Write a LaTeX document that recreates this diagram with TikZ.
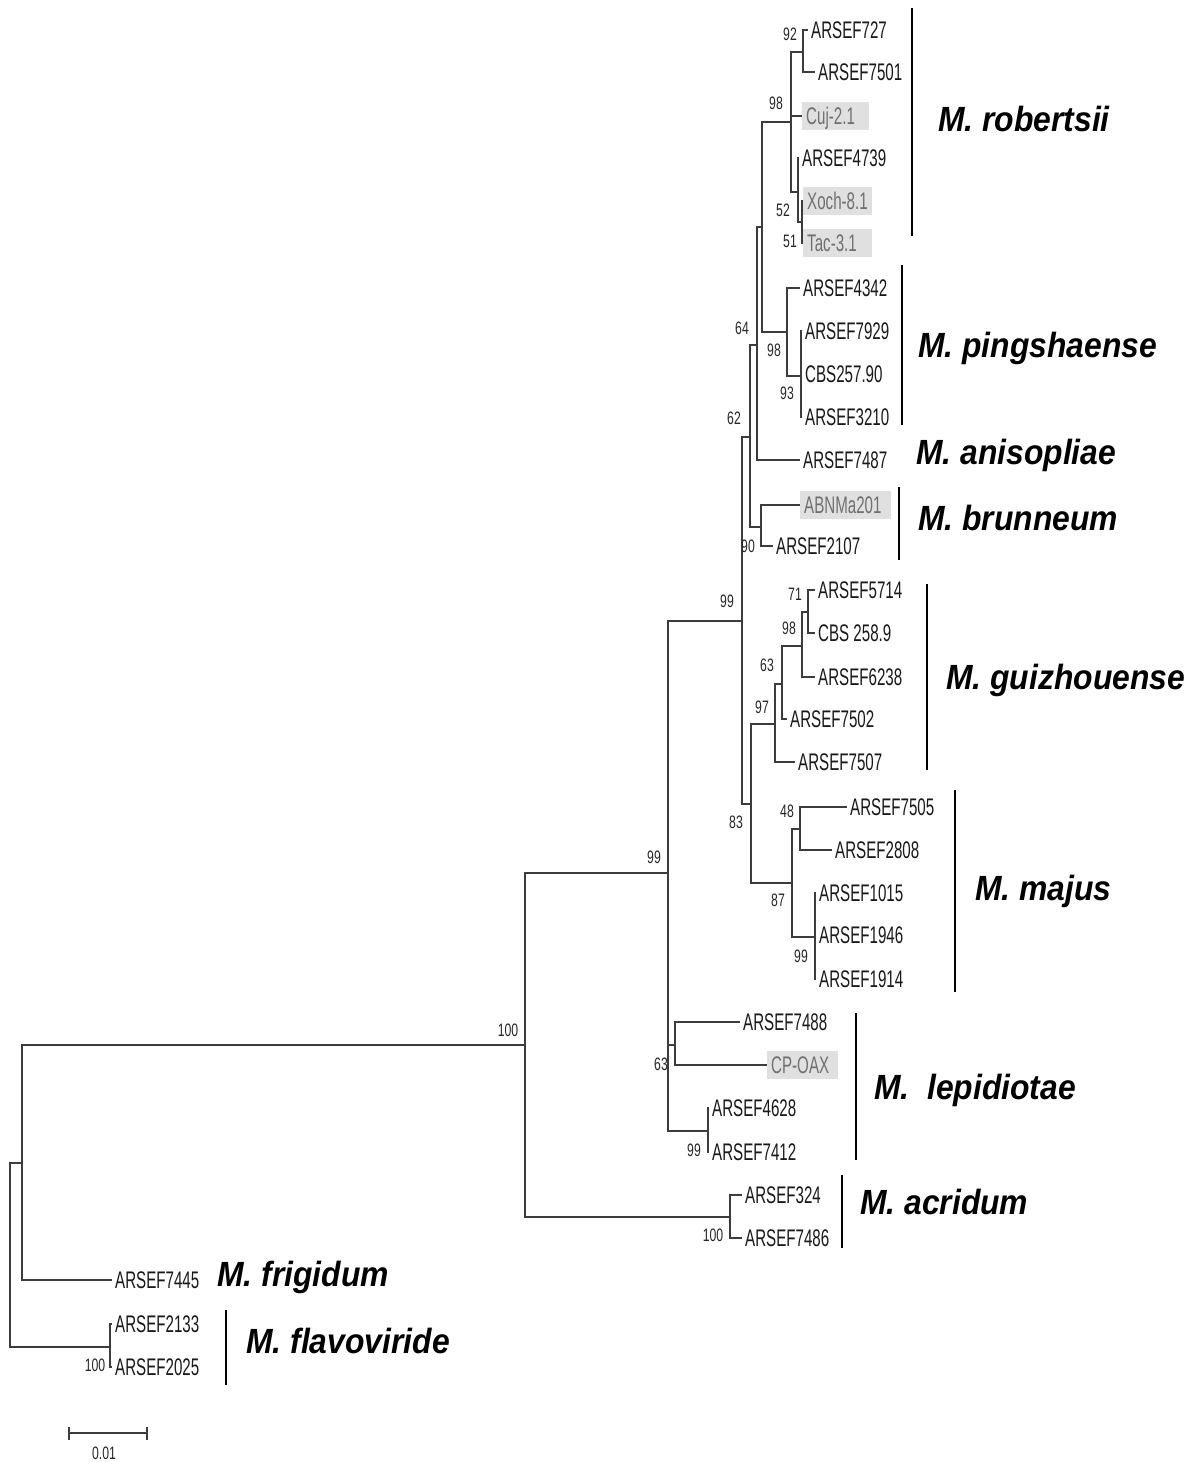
\documentclass[tikz,border=0pt]{standalone}
\usepackage{fontspec}
\setmainfont{Liberation Sans}
\newfontfamily\leaffont[FakeStretch=0.63]{Liberation Sans}
\newfontfamily\bootfont[FakeStretch=0.68]{Liberation Sans}
\newfontfamily\cladefont[FakeStretch=0.91]{Liberation Sans}
\definecolor{treegray}{RGB}{60,60,60}
\definecolor{isoshade}{RGB}{224,224,224}
\definecolor{isotext}{RGB}{112,112,112}

\begin{document}
\begin{tikzpicture}[
  x=1pt, y=-1pt,
  branch/.style={draw=treegray, line width=2pt},
  bar/.style={draw=black, line width=2.4pt},
  leaf/.style={anchor=west, inner xsep=3pt, inner ysep=0pt,
    text height=17.2pt, text depth=0pt, text=black!90,
    font=\leaffont\fontsize{24}{24}\selectfont},
  isolate/.style={leaf, fill=isoshade, text=isotext, inner xsep=4pt,
    inner ysep=5.4pt, text width=#1, align=left},
  boot/.style={inner sep=0pt, text=black!85,
    font=\bootfont\fontsize{18}{18}\selectfont},
  clade/.style={anchor=west, inner sep=0pt, text height=25pt, text depth=0pt,
    font=\cladefont\fontsize{35}{35}\selectfont\bfseries\itshape}
]
\useasboundingbox (0,0) rectangle (1201,1462);

% internal nodes
\coordinate (root) at (10,1255);
\coordinate (nA)   at (22,1163);
\coordinate (nB)   at (525,1045);
\coordinate (nC)   at (668,873);
\coordinate (nAcr) at (730,1217);
\coordinate (nLa)  at (675,1045);
\coordinate (nLb)  at (708,1131);
\coordinate (nD)   at (742,621);
\coordinate (nG)   at (750,437);
\coordinate (nH)   at (751,804);
\coordinate (nI)   at (757,345);
\coordinate (nJ)   at (762,227);
\coordinate (nRob) at (791,122);
\coordinate (n92)  at (803,52);
\coordinate (n52)  at (798,192);
\coordinate (n51)  at (802,222);
\coordinate (nPing) at (787,332);
\coordinate (n93)  at (801,376);
\coordinate (nBru) at (761,527);
\coordinate (nGz)  at (775,724);
\coordinate (n63)  at (782,684);
\coordinate (n98)  at (802,646);
\coordinate (n71)  at (808,612);
\coordinate (nMaj) at (792,883);
\coordinate (n48)  at (800,829);
\coordinate (n99)  at (815,937);
\coordinate (nFla) at (110,1347);

% leaves
\node[leaf] (a727)  at (808,30)  {ARSEF727};
\node[leaf] (a7501) at (815,72)  {ARSEF7501};
\node[isolate=59pt] (cuj) at (802,116) {\mbox{Cuj-2.1}};
\node[leaf] (a4739) at (799,158) {ARSEF4739};
\node[isolate=61pt] (xoch) at (803,201) {\mbox{Xoch-8.1}};
\node[isolate=61pt] (tac)  at (803,243) {\mbox{Tac-3.1}};
\node[leaf] (a4342) at (800,288) {ARSEF4342};
\node[leaf] (a7929) at (802,331) {ARSEF7929};
\node[leaf] (cbs257) at (802,374) {CBS257.90};
\node[leaf] (a3210) at (802,417) {ARSEF3210};
\node[leaf] (a7487) at (800,460) {ARSEF7487};
\node[isolate=83pt] (abnma) at (800,505) {\mbox{ABNMa201}};
\node[leaf] (a2107) at (773,546) {ARSEF2107};
\node[leaf] (a5714) at (815,590) {ARSEF5714};
\node[leaf] (cbs258) at (815,633) {CBS 258.9};
\node[leaf] (a6238) at (815,677) {ARSEF6238};
\node[leaf] (a7502) at (787,719) {ARSEF7502};
\node[leaf] (a7507) at (795,762) {ARSEF7507};
\node[leaf] (a7505) at (847,807) {ARSEF7505};
\node[leaf] (a2808) at (832,850) {ARSEF2808};
\node[leaf] (a1015) at (816,893) {ARSEF1015};
\node[leaf] (a1946) at (816,935) {ARSEF1946};
\node[leaf] (a1914) at (816,979) {ARSEF1914};
\node[leaf] (a7488) at (740,1022) {ARSEF7488};
\node[isolate=63pt] (cpoax) at (767,1065) {\mbox{CP-OAX}};
\node[leaf] (a4628) at (709,1108) {ARSEF4628};
\node[leaf] (a7412) at (709,1152) {ARSEF7412};
\node[leaf] (a324)  at (742,1195) {ARSEF324};
\node[leaf] (a7486) at (742,1238) {ARSEF7486};
\node[leaf] (a7445) at (112,1280) {ARSEF7445};
\node[leaf] (a2133) at (112,1324) {ARSEF2133};
\node[leaf] (a2025) at (112,1367) {ARSEF2025};

% branches
\draw[branch] (root) |- (nA) (root) |- (nFla);
\draw[branch] (nA) |- (nB) (nA) |- (a7445.west);
\draw[branch] (nFla) |- (a2133.west) (nFla) |- (a2025.west);
\draw[branch] (nB) |- (nC) (nB) |- (nAcr);
\draw[branch] (nAcr) |- (a324.west) (nAcr) |- (a7486.west);
\draw[branch] (nC) |- (nD) (nC) |- (nLa) (nC) |- (nLb);
\draw[branch] (nLa) |- (a7488.west) (nLa) |- (cpoax.west);
\draw[branch] (nLb) |- (a4628.west) (nLb) |- (a7412.west);
\draw[branch] (nD) |- (nG) (nD) |- (nH);
\draw[branch] (nG) |- (nI) (nG) |- (nBru);
\draw[branch] (nI) |- (nJ) (nI) |- (a7487.west);
\draw[branch] (nJ) |- (nRob) (nJ) |- (nPing);
\draw[branch] (nRob) |- (n92) (nRob) |- (cuj.west) (nRob) |- (n52);
\draw[branch] (n92) |- (a727.west) (n92) |- (a7501.west);
\draw[branch] (n52) |- (a4739.west) (n52) |- (n51);
\draw[branch] (n51) |- (xoch.west) (n51) |- (tac.west);
\draw[branch] (nPing) |- (a4342.west) (nPing) |- (n93);
\draw[branch] (n93) |- (a7929.west) (n93) |- (cbs257.west) (n93) |- (a3210.west);
\draw[branch] (nBru) |- (abnma.west) (nBru) |- (a2107.west);
\draw[branch] (nH) |- (nGz) (nH) |- (nMaj);
\draw[branch] (nGz) |- (n63) (nGz) |- (a7507.west);
\draw[branch] (n63) |- (n98) (n63) |- (a7502.west);
\draw[branch] (n98) |- (n71) (n98) |- (a6238.west);
\draw[branch] (n71) |- (a5714.west) (n71) |- (cbs258.west);
\draw[branch] (nMaj) |- (n48) (nMaj) |- (n99);
\draw[branch] (n48) |- (a7505.west) (n48) |- (a2808.west);
\draw[branch] (n99) |- (a1015.west) (n99) |- (a1946.west) (n99) |- (a1914.west);

% bootstrap values
\node[boot] (b1)  at (790,34)   {92};
\node[boot] (b2)  at (776,103)  {98};
\node[boot] (b3)  at (783,210)  {52};
\node[boot] (b4)  at (790,241)  {51};
\node[boot] (b5)  at (742,328)  {64};
\node[boot] (b6)  at (774,350)  {98};
\node[boot] (b7)  at (787,393)  {93};
\node[boot] (b8)  at (734,418)  {62};
\node[boot] (b9)  at (748,546)  {90};
\node[boot] (b10) at (727,601)  {99};
\node[boot] (b11) at (795,594)  {71};
\node[boot] (b12) at (789,628)  {98};
\node[boot] (b13) at (767,665)  {63};
\node[boot] (b14) at (762,707)  {97};
\node[boot] (b15) at (736,822)  {83};
\node[boot] (b16) at (787,811)  {48};
\node[boot] (b17) at (778,900)  {87};
\node[boot] (b18) at (801,956)  {99};
\node[boot] (b19) at (654,857)  {99};
\node[boot] (b20) at (508,1030) {100};
\node[boot] (b21) at (661,1064) {63};
\node[boot] (b22) at (694,1150) {99};
\node[boot] (b23) at (713,1235) {100};
\node[boot] (b24) at (95,1365)  {100};

% clade bars and names
\draw[bar] (912,8) -- (912,236);
\draw[bar] (902,265) -- (902,425);
\draw[bar] (899,487) -- (899,560);
\draw[bar] (927,584) -- (927,770);
\draw[bar] (955,790) -- (955,992);
\draw[bar] (856,1013) -- (856,1160);
\draw[bar] (842,1175) -- (842,1248);
\draw[bar] (226,1310) -- (226,1385);
\node[clade] (robertsii)   at (938,119)  {M. robertsii};
\node[clade] (pingshaense) at (918,345)  {M. pingshaense};
\node[clade] (anisopliae)  at (916,452)  {M. anisopliae};
\node[clade] (brunneum)    at (918,518)  {M. brunneum};
\node[clade] (guizhouense) at (946,677)  {M. guizhouense};
\node[clade] (majus)       at (975,888)  {M. majus};
\node[clade] (lepidiotae)  at (874,1087) {M.\ \ lepidiotae};
\node[clade] (acridum)     at (860,1202) {M. acridum};
\node[clade] (frigidum)    at (217,1274) {M. frigidum};
\node[clade] (flavoviride) at (246,1341) {M. flavoviride};

% scale bar
\coordinate (sL) at (69,1433);
\coordinate (sR) at (147,1433);
\draw[branch] (sL) -- (sR);
\draw[branch] ([yshift=6pt]sL) -- ([yshift=-7pt]sL);
\draw[branch] ([yshift=6pt]sR) -- ([yshift=-7pt]sR);
\node[boot] (scale) at (104,1453) {0.01};
\end{tikzpicture}
\end{document}
